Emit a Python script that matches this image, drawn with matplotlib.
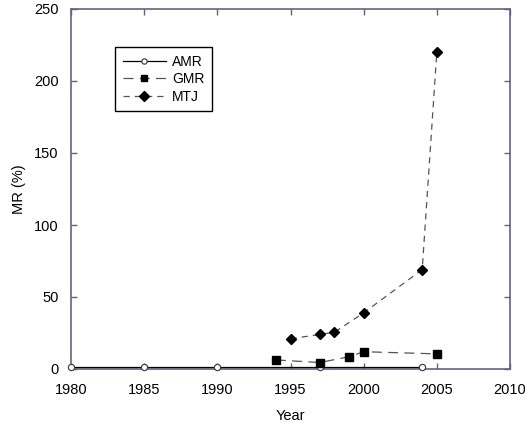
import matplotlib.pyplot as plt

plt.rcParams['font.family'] = ['Liberation Sans', 'DejaVu Sans']

# data
amr_year = [1980, 1985, 1990, 1997, 2004]
amr_mr = [1.5, 1.5, 1.5, 1.5, 1.5]

gmr_year = [1994, 1997, 1999, 2000, 2005]
gmr_mr = [6.3, 4.5, 8.5, 12, 10.5]

mtj_year = [1995, 1997, 1998, 2000, 2004, 2005]
mtj_mr = [21, 24, 25.5, 39, 69, 220]

xticks = [1980, 1985, 1990, 1995, 2000, 2005, 2010]
yticks = [0, 50, 100, 150, 200, 250]

frame_col = '#62627e'

fig = plt.figure(figsize=(5.25, 4.25), dpi=100)
ax = fig.add_axes([71 / 525, 1 - 369 / 425, (510 - 71) / 525, (369 - 9) / 425])

ax.plot(amr_year, amr_mr, color='black', lw=0.9, marker='o', ms=4.5,
        mfc='white', mec='#444444', mew=0.9, label='AMR', clip_on=False, zorder=3)
ax.plot(gmr_year, gmr_mr, color='#555555', lw=0.9, ls=(0, (8, 5)), marker='s', ms=5.5,
        mfc='black', mec='black', label='GMR', clip_on=False, zorder=3)
ax.plot(mtj_year, mtj_mr, color='#555555', lw=0.9, ls=(0, (5, 4)), marker='D', ms=5.5,
        mfc='black', mec='black', label='MTJ', clip_on=False, zorder=3)

ax.set_xlim(1980, 2010)
ax.set_ylim(0, 250)
ax.set_xticks(xticks)
ax.set_yticks(yticks)
ax.tick_params(direction='in', length=4, width=1, color=frame_col,
               top=True, right=True, labelsize=10.5)
ax.tick_params(axis='x', pad=10)
ax.tick_params(axis='y', pad=9)
for sp in ax.spines.values():
    sp.set_color(frame_col)
    sp.set_linewidth(1.2)

ax.set_xlabel('Year', fontsize=10.5, labelpad=9)
ax.set_ylabel('MR (%)', fontsize=10.5, labelpad=6)

leg = ax.legend(loc='upper left', bbox_to_anchor=(0.1, 0.894), borderaxespad=0,
                fontsize=10, fancybox=False, edgecolor='black', framealpha=1,
                handlelength=3.1, borderpad=0.55, labelspacing=0.25, handletextpad=0.45,
                markerscale=0.85)
leg.get_frame().set_linewidth(1.0)

fig.savefig('out.png', dpi=100)
